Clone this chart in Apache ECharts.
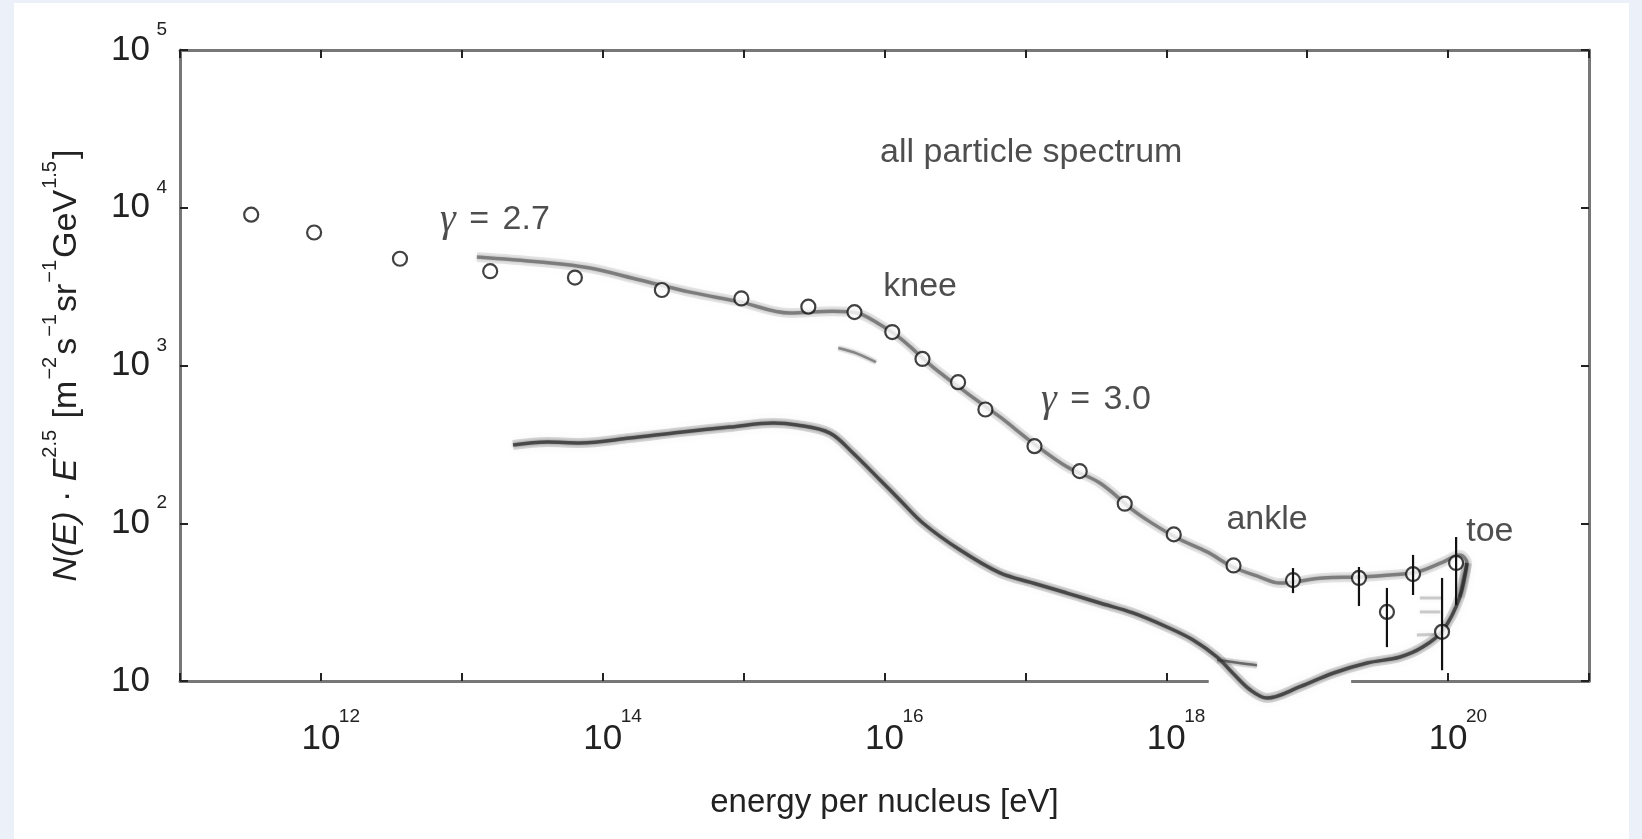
<!DOCTYPE html>
<html>
<head>
<meta charset="utf-8">
<script src="https://cdn.jsdelivr.net/npm/echarts@6/dist/echarts.min.js"></script>
<style>
  html, body { margin: 0; padding: 0; background: #ebf0f9; }
  #chart { position: absolute; left: 14px; top: 3px; width: 1615px; height: 836px; background: #ffffff; }
</style>
</head>
<body>
<div id="chart"></div>
<script>
// ---- data (energy [eV], N(E)·E^2.5) ----
const circlePoints = [
  [3.2e11, 9040], [8.95e11, 6970], [3.64e12, 4750], [1.59e13, 3960], [6.35e13, 3610],
  [2.63e14, 3010], [9.64e14, 2660], [2.88e15, 2360], [6.12e15, 2180], [1.135e16, 1630],
  [1.86e16, 1100], [3.33e16, 784], [5.2e16, 526], [1.16e17, 308], [2.43e17, 214],
  [5.07e17, 133], [1.13e18, 85], [3.0e18, 54]
];
// [E, value, low, high]
const errorPoints = [
  [7.93e18, 43.6, 36.1, 52.0], [2.33e19, 45.0, 29.9, 52.8], [3.68e19, 27.4, 16.4, 38.9],
  [5.64e19, 47.6, 35.1, 63.0], [1.14e20, 56.0, 30.3, 81.8], [9.06e19, 20.5, 11.7, 45.0]
];
const upperBand = [
  [1.28e13, 4880], [3.59e13, 4530], [8.1e13, 4150], [1.84e14, 3480], [4.17e14, 2920],
  [9.4e14, 2530], [2.13e15, 2150], [4.3e15, 2210], [6.4e15, 2150], [8.9e15, 1860],
  [1.29e16, 1490], [2.21e16, 977], [3.85e16, 669], [6.6e16, 472], [1.13e17, 323],
  [1.97e17, 228], [3.38e17, 180], [5.8e17, 121], [7.66e17, 102], [1.19e18, 80.7],
  [1.95e18, 65.8], [2.97e18, 52.8], [4.62e18, 45.6], [6.4e18, 41.8], [1.29e19, 45.0],
  [2.37e19, 45.6], [3.87e19, 47.0], [6.0e19, 49.1], [9.2e19, 56.8], [1.21e20, 63.0],
  [1.36e20, 56.0], [1.28e20, 43.7], [1.21e20, 34.1]
];
const lowerBand = [
  [2.31e13, 313], [4.03e13, 327], [6.9e13, 323], [1.56e14, 347], [3.54e14, 378],
  [8.0e14, 407], [1.62e15, 432], [2.39e15, 420], [4.1e15, 373], [5.97e15, 279],
  [9.3e15, 188], [1.29e16, 140], [1.88e16, 100], [3.44e16, 67.6], [6.6e16, 48.4],
  [1.13e17, 41.8], [1.97e17, 36.1], [3.38e17, 31.2], [5.8e17, 27.0], [1.01e18, 22.0],
  [1.55e18, 18.2], [2.29e18, 14.2], [2.97e18, 11.2], [3.93e18, 8.8], [5.19e18, 7.8],
  [8.9e18, 9.2], [1.52e19, 11.2], [2.66e19, 13.0], [4.56e19, 14.2], [6.6e19, 16.4],
  [9.2e19, 21.0], [1.21e20, 34.0], [1.36e20, 56.0]
];
const kneeSmear = [[4.7e15, 1290], [6.4e15, 1190], [8.7e15, 1050]];
const ankleBranch = [[2.3e18, 13.6], [3.3e18, 13.0], [4.4e18, 12.6]];
const toeSmears = [
  [[6.3e19, 33.6], [9.2e19, 33.6]],
  [[6.3e19, 27.4], [8.8e19, 27.4]],
  [[6.0e19, 19.6], [8.8e19, 19.8]]
];
const axisGap = [[2.0e18, 10], [2.05e19, 10]];
const annotations = [
  ['all particle spectrum', 1.1e17, 22200],
  ['{i|γ} {e|=} 2.7', 1.72e13, 8360],
  ['knee', 1.79e16, 3150],
  ['{i|γ} {e|=} 3.0', 3.17e17, 604],
  ['ankle', 5.19e18, 105],
  ['toe', 1.98e20, 89]
];
const xRange = [1e11, 1e21];
const yRange = [10, 1e5];

// ---- chart ----
const FONT = "'Liberation Sans', Arial, sans-serif";
const TXT = '#222222';
function makeTickRich(supLine) {
  return {
    b:  { fontSize: 35, lineHeight: 22, width: 37, fontFamily: FONT, color: TXT },
    s:  { fontSize: 19, lineHeight: supLine, width: 20, fontFamily: FONT, color: TXT },
    gb: { width: 37, lineHeight: supLine, fontSize: 19 },
    g:  { width: 17, lineHeight: 22, fontSize: 19 },
    gx: { width: 20, lineHeight: 22, fontSize: 19 },
    p:  { width: 20, lineHeight: supLine, fontSize: 19 }
  };
}
function expOf(v) { return Math.round(Math.log10(v)); }

const chart = echarts.init(document.getElementById('chart'), null, { renderer: 'canvas' });

const axisLineStyle = { color: '#777777', width: 3 };
const tickStyle = { show: true, inside: true, length: 8, lineStyle: { color: '#222222', width: 2 } };

const bandSeries = (data, core, halo, coreW, haloW) => ([
  { type: 'line', data, smooth: 0.35, showSymbol: false, clip: false, silent: true, z: 3,
    lineStyle: { color: halo, width: haloW, shadowBlur: 8, shadowColor: halo } },
  { type: 'line', data, smooth: 0.35, showSymbol: false, clip: false, silent: true, z: 3,
    lineStyle: { color: core, width: coreW, shadowBlur: 3, shadowColor: core } }
]);

const option = {
  animation: false,
  grid: { left: 166, right: 40, top: 47, bottom: 158, outerBoundsMode: 'none', containLabel: false },
  xAxis: [
    { type: 'log', logBase: 10, min: xRange[0], max: xRange[1], splitNumber: 10, position: 'bottom',
      name: 'energy per nucleus [eV]', nameLocation: 'middle', nameGap: 105,
      nameTextStyle: { fontSize: 33, fontFamily: FONT, color: TXT },
      axisLine: { show: true, lineStyle: axisLineStyle }, axisTick: tickStyle, splitLine: { show: false },
      minorTick: { show: false },
      axisLabel: { margin: 25, rich: makeTickRich(22),
        formatter: v => { const e = expOf(v); return e % 2 === 0 ? '{p|}{gb|}{s|' + e + '}\n{p|}{b|10}{gx|}\n{p|}{gb|}{s|}' : ''; } } },
    { type: 'log', logBase: 10, min: xRange[0], max: xRange[1], splitNumber: 10, position: 'top',
      axisLine: { show: true, lineStyle: axisLineStyle }, axisTick: tickStyle, splitLine: { show: false },
      axisLabel: { show: false } }
  ],
  yAxis: [
    { type: 'log', logBase: 10, min: yRange[0], max: yRange[1], splitNumber: 4, position: 'left',
      name: '{i|N(E)}{n| · }{i|E}{s|2.5}{n| [m}{s|−2}{n|s}{s|−1}{n|sr}{s|−1}{n|GeV}{s|1.5}{n|]}',
      nameLocation: 'middle', nameRotate: 90, nameGap: 96,
      nameTextStyle: {
        rich: {
          i: { fontSize: 34, fontStyle: 'italic', fontFamily: FONT, color: TXT, padding: [10, 0, 0, 0], verticalAlign: 'bottom' },
          n: { fontSize: 34, fontFamily: FONT, color: TXT, padding: [10, 0, 0, 0], verticalAlign: 'bottom' },
          s: { fontSize: 20, fontFamily: FONT, color: TXT, verticalAlign: 'top', padding: [0, 2, 0, 1] }
        }
      },
      axisLine: { show: true, lineStyle: axisLineStyle }, axisTick: tickStyle, splitLine: { show: false },
      axisLabel: { margin: 13, rich: makeTickRich(18),
        formatter: v => { const e = expOf(v); return '{gb|}{s|' + (e === 1 ? '' : e) + '}\n{b|10}{g|}\n{gb|}{s|}'; } } },
    { type: 'log', logBase: 10, min: yRange[0], max: yRange[1], splitNumber: 4, position: 'right',
      axisLine: { show: true, lineStyle: axisLineStyle }, axisTick: tickStyle, splitLine: { show: false },
      axisLabel: { show: false } }
  ],
  series: [
    { type: 'line', data: axisGap, showSymbol: false, clip: false, silent: true, z: 1,
      lineStyle: { color: '#ffffff', width: 16 } },
    ...bandSeries(upperBand, 'rgba(70,70,70,0.55)', 'rgba(120,120,120,0.18)', 3.5, 10),
    ...bandSeries(lowerBand, 'rgba(40,40,40,0.7)', 'rgba(80,80,80,0.22)', 3.5, 10),
    ...bandSeries(kneeSmear, 'rgba(60,60,60,0.5)', 'rgba(120,120,120,0.15)', 2.5, 6),
    ...bandSeries(ankleBranch, 'rgba(50,50,50,0.6)', 'rgba(100,100,100,0.18)', 2.5, 7),
    ...toeSmears.map(seg => ({ type: 'line', data: seg, showSymbol: false, clip: false, silent: true, z: 3,
      lineStyle: { color: 'rgba(90,90,90,0.3)', width: 3, shadowBlur: 5, shadowColor: 'rgba(90,90,90,0.3)' } })),
    { type: 'scatter', data: circlePoints.concat(errorPoints.map(p => [p[0], p[1]])),
      symbol: 'circle', symbolSize: 14, z: 5, silent: true,
      itemStyle: { color: '#ffffff', borderColor: '#111111', borderWidth: 2.2 } },
    { type: 'custom', data: errorPoints, z: 6, silent: true, clip: false,
      renderItem: (params, api) => {
        const x = api.value(0);
        const lo = api.coord([x, api.value(2)]);
        const hi = api.coord([x, api.value(3)]);
        return { type: 'line', shape: { x1: lo[0], y1: lo[1], x2: hi[0], y2: hi[1] },
                 style: { stroke: '#111111', lineWidth: 2.2 } };
      },
      encode: { x: 0, y: 1 } },
    { type: 'scatter', symbolSize: 0, z: 7, silent: true,
      data: annotations.map(a => ({ name: a[0], value: [a[1], a[2]] })),
      label: { show: true, position: 'inside', formatter: p => p.name,
        fontSize: 34, fontFamily: FONT, color: TXT,
        rich: {
          i: { fontSize: 40, fontStyle: 'italic', fontFamily: "'Liberation Serif', serif", color: TXT },
          e: { fontSize: 34, fontFamily: FONT, color: TXT, padding: [0, 4, 0, 4] }
        } } }
  ]
};
chart.setOption(option);
</script>
</body>
</html>
